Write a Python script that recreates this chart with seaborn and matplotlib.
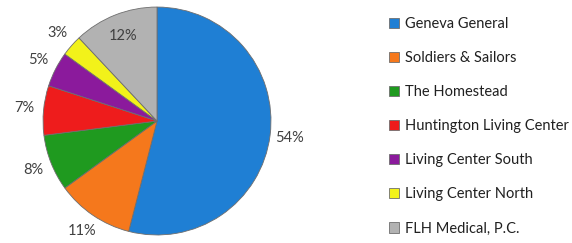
import seaborn as sns
import matplotlib.pyplot as plt

facilities = ["Geneva General", "Soldiers & Sailors", "The Homestead",
              "Huntington Living Center", "Living Center South",
              "Living Center North", "FLH Medical, P.C."]
shares = [54, 11, 8, 7, 5, 3, 12]
colors = ["#1f7fd4", "#f5781c", "#1f9a1f", "#ee1c1c", "#8b1a9c", "#f2f21a", "#b2b2b2"]

sns.set_theme(style="white")
plt.rcParams["font.family"] = ["Lato", "DejaVu Sans"]

fig = plt.figure(figsize=(5.72, 2.43), dpi=100)
ax = fig.add_axes([0.0752, 0.033, 0.3986, 0.938])

wedges, texts, autotexts = ax.pie(
    shares,
    colors=colors,
    startangle=90,
    counterclock=False,
    autopct="%d%%",
    pctdistance=1.17,
    wedgeprops=dict(edgecolor="#6e6e6e", linewidth=0.6),
    textprops=dict(color="#404040", fontsize=10.5),
)
ax.set_xlim(-1, 1)
ax.set_ylim(-1, 1)
ax.set_aspect("equal")
for t in autotexts:
    t.set_clip_on(False)
# the FLH label sits inside its slice
x, y = autotexts[-1].get_position()
autotexts[-1].set_position((x * 0.8 / 1.17, y * 0.8 / 1.17))

fig.legend(
    wedges, facilities,
    loc="upper left",
    bbox_to_anchor=(0.657, 0.985),
    frameon=False,
    fontsize=10.5,
    handlelength=0.7,
    handleheight=0.7,
    handletextpad=0.4,
    labelspacing=1.38,
    labelcolor="#202020",
)

fig.savefig("out.png", dpi=100)
